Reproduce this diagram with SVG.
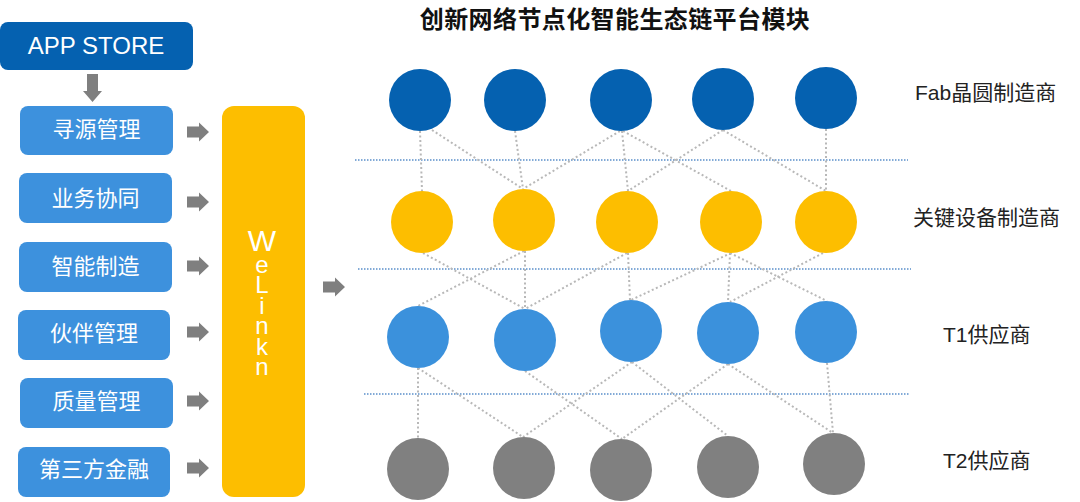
<svg xmlns="http://www.w3.org/2000/svg" xmlns:xlink="http://www.w3.org/1999/xlink" width="1080" height="502" viewBox="0 0 1080 502">
<style>
.btn{fill:#3d91dd;}
.btxt{fill:#ffffff;font-size:22px;text-anchor:middle;font-family:"Noto Sans CJK SC",sans-serif;}
.lbl{fill:#222222;font-size:21px;font-family:"Liberation Sans","Noto Sans CJK SC",sans-serif;}
.arr{fill:#7f7f7f;}
.sep{stroke:#5a8fca;stroke-width:1.5;stroke-dasharray:1.5 1.5;fill:none;}
.con{stroke:#b8b8b8;stroke-width:2;stroke-dasharray:2 2.5;fill:none;}
.r1{fill:#0561b0;}
.r2{fill:#fdbe00;}
.r3{fill:#3b91dc;}
.r4{fill:#808080;}
.wl{fill:#ffffff;font-family:"Liberation Sans",sans-serif;font-size:24px;writing-mode:vertical-rl;text-orientation:upright;letter-spacing:-6.5px;}
</style>
<defs>
<path id="ra" d="M0,-5.5 H12 V-9.5 L22,0 L12,9.5 V5.5 H0 Z"/>
</defs>
<rect width="1080" height="502" fill="#ffffff"/>

<text x="615" y="28" text-anchor="middle" font-family="Noto Sans CJK SC,sans-serif" font-size="24" font-weight="bold" fill="#111111" letter-spacing="0.4">创新网络节点化智能生态链平台模块</text>

<g id="appstore">
<rect x="0" y="22" width="193" height="48" rx="8" fill="#0561b0"/>
<text x="96" y="54" text-anchor="middle" font-family="Liberation Sans,sans-serif" font-size="24" fill="#ffffff">APP STORE</text>
</g>

<g id="connectors-left">
<path class="arr" d="M87,74 H98 V91 H102 L92.5,102 L83,91 H87 Z"/>
<use href="#ra" class="arr" x="187" y="132"/>
<use href="#ra" class="arr" x="187" y="202"/>
<use href="#ra" class="arr" x="187" y="266"/>
<use href="#ra" class="arr" x="187" y="332"/>
<use href="#ra" class="arr" x="187" y="401"/>
<use href="#ra" class="arr" x="187" y="468"/>
<use href="#ra" class="arr" x="323" y="287"/>
</g>

<g id="n-xunyuan"><rect class="btn" x="20" y="106" width="153" height="49" rx="8"/><text class="btxt" x="96.5" y="137">寻源管理</text></g>
<g id="n-yewu"><rect class="btn" x="19" y="173" width="153" height="50" rx="8"/><text class="btxt" x="95.5" y="206">业务协同</text></g>
<g id="n-zhineng"><rect class="btn" x="19" y="242" width="153" height="50" rx="8"/><text class="btxt" x="95.5" y="274">智能制造</text></g>
<g id="n-huoban"><rect class="btn" x="18" y="310" width="152" height="50" rx="8"/><text class="btxt" x="94" y="341">伙伴管理</text></g>
<g id="n-zhiliang"><rect class="btn" x="20" y="378" width="153" height="50" rx="8"/><text class="btxt" x="96.5" y="409">质量管理</text></g>
<g id="n-jinrong"><rect class="btn" x="18" y="447" width="152" height="50" rx="8"/><text class="btxt" x="94" y="477">第三方金融</text></g>

<g id="n-welink">
<rect x="222" y="106" width="83" height="391" rx="12" fill="#fdbe00"/>
<text class="wl" x="262" y="224"><tspan font-size="30">W</tspan>eLinkn</text>
</g>

<g id="separators">
<line class="sep" x1="355" y1="160" x2="908" y2="160"/>
<line class="sep" x1="358" y1="269" x2="911" y2="269"/>
<line class="sep" x1="364" y1="394" x2="909" y2="394"/>
</g>

<g id="connectors">
<line class="con" x1="420" y1="131" x2="422" y2="191"/>
<line class="con" x1="432" y1="130" x2="523" y2="189"/>
<line class="con" x1="515" y1="131" x2="523" y2="189"/>
<line class="con" x1="620" y1="131" x2="523" y2="189"/>
<line class="con" x1="622" y1="131" x2="628" y2="191"/>
<line class="con" x1="623" y1="131" x2="731" y2="191"/>
<line class="con" x1="723" y1="130" x2="628" y2="191"/>
<line class="con" x1="723" y1="130" x2="826" y2="191"/>
<line class="con" x1="826" y1="129" x2="826" y2="191"/>

<line class="con" x1="423" y1="253" x2="525" y2="309"/>
<line class="con" x1="524" y1="251" x2="418" y2="306"/>
<line class="con" x1="525" y1="251" x2="525" y2="309"/>
<line class="con" x1="627" y1="253" x2="525" y2="309"/>
<line class="con" x1="628" y1="253" x2="630" y2="300"/>
<line class="con" x1="731" y1="253" x2="631" y2="300"/>
<line class="con" x1="730" y1="253" x2="728" y2="302"/>
<line class="con" x1="730" y1="253" x2="827" y2="301"/>
<line class="con" x1="823" y1="253" x2="730" y2="302"/>

<line class="con" x1="418" y1="368" x2="418" y2="438"/>
<line class="con" x1="418" y1="368" x2="523" y2="437"/>
<line class="con" x1="525" y1="371" x2="622" y2="439"/>
<line class="con" x1="632" y1="362" x2="523" y2="437"/>
<line class="con" x1="632" y1="362" x2="728" y2="436"/>
<line class="con" x1="728" y1="364" x2="622" y2="439"/>
<line class="con" x1="728" y1="364" x2="833" y2="433"/>
<line class="con" x1="827" y1="363" x2="833" y2="433"/>
</g>

<g id="n-r1c1"><circle class="r1" cx="420" cy="100" r="31"/></g>
<g id="n-r1c2"><circle class="r1" cx="515" cy="100" r="31"/></g>
<g id="n-r1c3"><circle class="r1" cx="621" cy="100" r="31"/></g>
<g id="n-r1c4"><circle class="r1" cx="723" cy="99" r="31"/></g>
<g id="n-r1c5"><circle class="r1" cx="826" cy="98" r="31"/></g>

<g id="n-r2c1"><circle class="r2" cx="422" cy="222" r="31"/></g>
<g id="n-r2c2"><circle class="r2" cx="524" cy="220" r="31"/></g>
<g id="n-r2c3"><circle class="r2" cx="627" cy="222" r="31"/></g>
<g id="n-r2c4"><circle class="r2" cx="731" cy="222" r="31"/></g>
<g id="n-r2c5"><circle class="r2" cx="826" cy="222" r="31"/></g>

<g id="n-r3c1"><circle class="r3" cx="418" cy="337" r="31"/></g>
<g id="n-r3c2"><circle class="r3" cx="525" cy="340" r="31"/></g>
<g id="n-r3c3"><circle class="r3" cx="631" cy="331" r="31"/></g>
<g id="n-r3c4"><circle class="r3" cx="728" cy="333" r="31"/></g>
<g id="n-r3c5"><circle class="r3" cx="826" cy="332" r="31"/></g>

<g id="n-r4c1"><circle class="r4" cx="418" cy="469" r="31"/></g>
<g id="n-r4c2"><circle class="r4" cx="524" cy="468" r="31"/></g>
<g id="n-r4c3"><circle class="r4" cx="621" cy="470" r="31"/></g>
<g id="n-r4c4"><circle class="r4" cx="728" cy="467" r="31"/></g>
<g id="n-r4c5"><circle class="r4" cx="834" cy="464" r="31"/></g>

<g id="labels">
<text class="lbl" x="915" y="100">Fab晶圆制造商</text>
<text class="lbl" x="913" y="225">关键设备制造商</text>
<text class="lbl" x="943" y="342">T1供应商</text>
<text class="lbl" x="943" y="468">T2供应商</text>
</g>
</svg>
